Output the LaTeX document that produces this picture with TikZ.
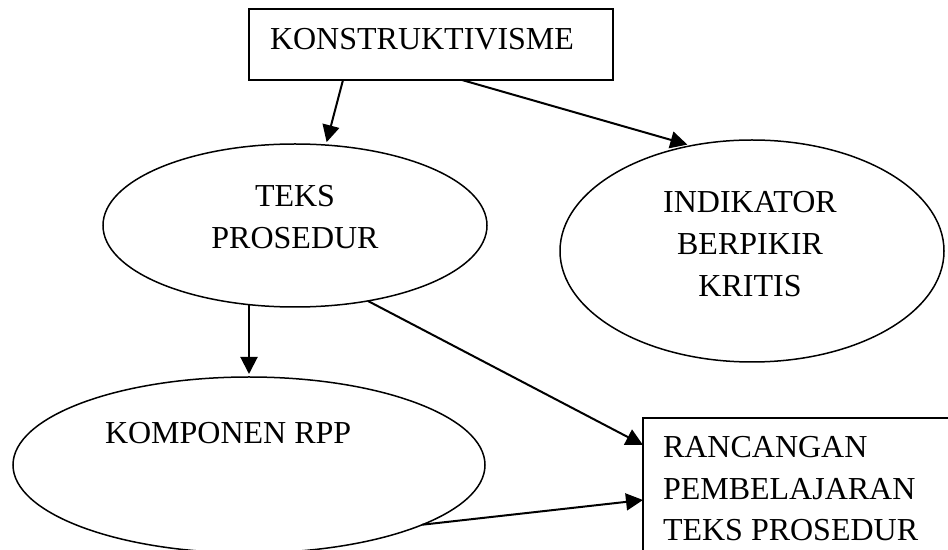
\documentclass[tikz,border=0pt]{standalone}
\usepackage{fontspec}
\setmainfont{Liberation Serif}
\usetikzlibrary{shapes.geometric,arrows.meta}
\begin{document}
\begin{tikzpicture}[x=0.5pt,y=-0.5pt,
  every node/.style={inner sep=0pt, outer sep=0pt},
  boxnode/.style={draw, line width=0.8pt, rectangle},
  ellnode/.style={draw, line width=0.75pt, ellipse},
  lbl/.style={font=\fontsize{16pt}{21pt}\selectfont, anchor=base},
  conn/.style={-{Triangle[length=8.5pt,width=8.5pt]}, line width=1pt}]
\fill[white] (0,0) rectangle (948,550);
\clip (0,0) rectangle (948,550);
% top box
\node[boxnode, minimum width=182pt, minimum height=35.5pt] (konst) at (431,44.5) {};
\node[lbl, anchor=base west] (konstT) at (270,50) {KONSTRUKTIVISME};
% TEKS PROSEDUR
\node[ellnode, minimum width=192pt, minimum height=81.5pt] (teks) at (295,225.5) {};
\node[lbl] (teksA) at (295,207) {TEKS};
\node[lbl] (teksB) at (295,249) {PROSEDUR};
% INDIKATOR
\node[ellnode, minimum width=192pt, minimum height=111pt] (ind) at (752,251) {};
\node[lbl] (indA) at (750,213) {INDIKATOR};
\node[lbl] (indB) at (750,255) {BERPIKIR};
\node[lbl] (indC) at (750,297) {KRITIS};
% KOMPONEN RPP
\node[ellnode, minimum width=236pt, minimum height=88pt] (komp) at (249,465) {};
\node[lbl, anchor=base west] (kompT) at (105,444) {KOMPONEN RPP};
% RANCANGAN box
\node[boxnode, minimum width=168.5pt, minimum height=81pt, anchor=north west] (ranc) at (643,418) {};
\node[lbl, anchor=base west] (rancA) at (663,458) {RANCANGAN};
\node[lbl, anchor=base west] (rancB) at (663,500) {PEMBELAJARAN};
\node[lbl, anchor=base west] (rancC) at (663,540) {TEKS PROSEDUR};
% connectors
\draw[conn, shorten >=1.5pt] ([xshift=47pt]konst.south west) -- (teks.69.6);
\draw[conn, shorten >=2pt] ([xshift=106.5pt]konst.south west) -- (ind.120.6);
\draw[conn, shorten >=1.5pt] (komp.north |- teks.239.8) -- (komp.north);
\draw[conn] (teks.-46.4) -- ([yshift=-13.5pt]ranc.north west);
\draw[conn] (komp.-19.5) -- ([yshift=-41pt]ranc.north west);
\end{tikzpicture}
\end{document}
